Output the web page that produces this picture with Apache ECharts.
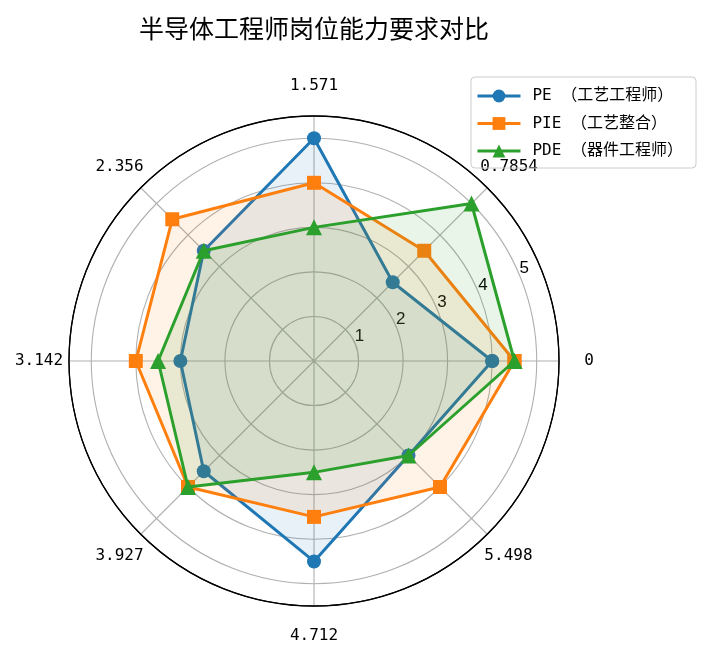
<!DOCTYPE html>
<html>
<head>
<meta charset="utf-8">
<script src="https://cdn.jsdelivr.net/npm/echarts@6/dist/echarts.min.js"></script>
<style>
  html, body { margin: 0; padding: 0; background: #fff; }
  #box { width: 711px; height: 660px; }
</style>
</head>
<body>
<div id="box"></div>
<script>
/* 数据 */
var angleLabels = ['0', '0.7854', '1.571', '2.356', '3.142', '3.927', '4.712', '5.498']
var angleDegs = [0, 45, 90, 135, 180, 225, 270, 315]
var radiusTicks = [1, 2, 3, 4, 5]
var seriesNames = ['PE （工艺工程师）', 'PIE （工艺整合）', 'PDE （器件工程师）']
var peValues = [4, 2.5, 5, 3.5, 3, 3.5, 4.5, 3]
var pieValues = [4.5, 3.5, 4, 4.5, 4, 4, 3.5, 4]
var pdeValues = [4.5, 5, 3, 3.5, 3.5, 4, 2.5, 3]

var colors = ['#1f77b4', '#ff7f0e', '#2ca02c']
var symbols = ['circle', 'rect', 'triangle']
var symbolSizes = [14, 14, 16]
var monoFont = '"DejaVu Sans Mono", "Noto Sans CJK SC", monospace'
var cjkFont = '"Noto Sans CJK SC", "DejaVu Sans", sans-serif'

/* [半径, 角度]，最后回到起点闭合 */
var toPolar = function (values) {
  var out = []
  values.forEach(function (v, i) {
    out.push([v, angleDegs[i]])
  })
  out.push([values[0], 360])
  return out
}

/* 角度标签居中放在固定半径上：按方向补 padding */
var labelRich = function () {
  var ctx = document.createElement('canvas').getContext('2d')
  ctx.font = '16px ' + monoFont
  var h = 16, margin = -10, rOuter = 245, rWant = 275
  var d = rWant - (rOuter + margin)
  var rich = {}
  angleDegs.forEach(function (deg, i) {
    var w = ctx.measureText(angleLabels[i]).width
    var rad = deg * Math.PI / 180
    var cx = Math.cos(rad), cy = Math.sin(rad)
    var pad = [0, 0, 0, 0]
    var dx = d * Math.abs(cx), dy = d * Math.abs(cy)
    if (Math.abs(cx) >= 0.3) {
      var px = Math.max(0, dx - w / 2)
      if (cx > 0) pad[3] = px; else pad[1] = px
    }
    if (Math.abs(cy) >= 0.3) {
      // 竖直方向的 padding 只起一半作用
      var py = Math.max(0, dy - h / 2) * 2
      if (cy > 0) pad[2] = py; else pad[0] = py
    }
    rich['a' + i] = {
      fontFamily: monoFont,
      fontSize: 16,
      lineHeight: h,
      color: '#000',
      padding: pad
    }
  })
  return { rich: rich, margin: margin }
}

var radarChart = function () {
  var box = document.getElementById('box')
  var myCharts = echarts.init(box)
  var allValues = [peValues, pieValues, pdeValues]
  var series = allValues.map(function (vals, i) {
    return {
      name: seriesNames[i],
      type: 'line',
      coordinateSystem: 'polar',
      polarIndex: 0,
      data: toPolar(vals),
      symbol: symbols[i],
      symbolSize: symbolSizes[i],
      color: colors[i],
      lineStyle: { width: 3, color: colors[i] },
      itemStyle: { color: colors[i] },
      areaStyle: { color: colors[i], opacity: 0.1 },
      animation: false,
      z: 3 + i
    }
  })
  var splitColors = []
  for (var k = 0; k <= radiusTicks.length; k++) splitColors.push('#b0b0b0')
  splitColors.push('#000000')
  var lab = labelRich()

  var options = {
    backgroundColor: '#fff',
    animation: false,
    title: {
      text: '半导体工程师岗位能力要求对比',
      left: 309,
      textAlign: 'center',
      top: 11,
      textStyle: { fontFamily: cjkFont, fontSize: 25, fontWeight: 'normal', color: '#000' }
    },
    legend: {
      data: seriesNames,
      orient: 'vertical',
      right: 15,
      top: 77,
      padding: [11, 13, 9, 5],
      itemGap: 11.5,
      itemWidth: 43,
      itemHeight: 16,
      lineStyle: { width: 3 },
      borderColor: '#cccccc',
      borderWidth: 1,
      borderRadius: 4,
      textStyle: { fontFamily: monoFont, fontSize: 16, color: '#000', padding: [0, 0, 0, 7] }
    },
    polar: [
      { center: [314, 361], radius: 245 },
      { center: [314, 361], radius: 245 }
    ],
    angleAxis: [{
      polarIndex: 0,
      type: 'value',
      min: 0,
      max: 360,
      interval: 45,
      startAngle: 0,
      clockwise: false,
      axisLine: { lineStyle: { color: '#000', width: 1.3 } },
      axisTick: { show: false },
      splitLine: { lineStyle: { color: '#b0b0b0', width: 1.1 } },
      axisLabel: {
        margin: lab.margin,
        rich: lab.rich,
        formatter: function (v) {
          var i = Math.round(v / 45)
          return i < angleLabels.length ? '{a' + i + '|' + angleLabels[i] + '}' : ''
        }
      }
    }, {
      polarIndex: 1,
      type: 'value',
      min: 0,
      max: 360,
      startAngle: 22.5,
      clockwise: false,
      show: false
    }],
    radiusAxis: [{
      polarIndex: 0,
      type: 'value',
      min: 0,
      max: 5.5,
      interval: 1,
      axisLine: { show: false },
      axisTick: { show: false },
      axisLabel: { show: false },
      splitLine: { lineStyle: { color: splitColors, width: 1.1 } }
    }, {
      polarIndex: 1,
      type: 'value',
      min: 0,
      max: 5.5,
      interval: 1,
      axisLine: { show: false },
      axisTick: { show: false },
      splitLine: { show: false },
      axisLabel: {
        margin: 8,
        align: 'center',
        verticalAlign: 'middle',
        padding: [0, 0, 0, 15],
        fontFamily: '"Liberation Sans", Arial, sans-serif',
        fontSize: 17,
        color: '#000',
        formatter: function (v) {
          return radiusTicks.indexOf(v) >= 0 ? String(v) : ''
        }
      }
    }],
    series: series
  }
  myCharts.setOption(options)
}

radarChart()
</script>
</body>
</html>
